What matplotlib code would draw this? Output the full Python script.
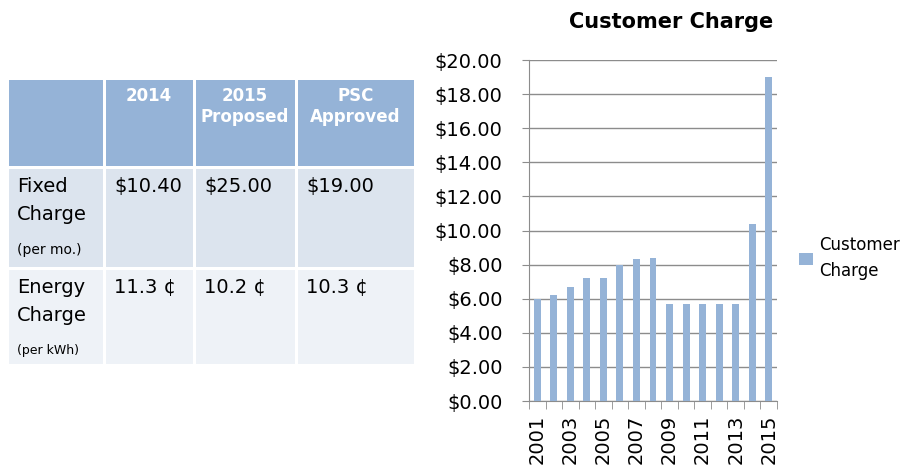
import matplotlib.pyplot as plt
from matplotlib.patches import Rectangle

years = list(range(2001, 2016))
charge = [6.00, 6.22, 6.67, 7.21, 7.21, 7.96, 8.35, 8.39,
          5.69, 5.69, 5.69, 5.69, 5.69, 10.40, 19.00]

col_heads = ["", "2014", "2015\nProposed", "PSC\nApproved"]
row_names = ["Fixed\nCharge", "Energy\nCharge"]
row_units = ["(per mo.)", "(per kWh)"]
fixed_vals = ["$10.40", "$25.00", "$19.00"]
energy_vals = ["11.3 \u00a2", "10.2 \u00a2", "10.3 \u00a2"]

blue = "#95B3D7"
W, H = 906, 467
fig = plt.figure(figsize=(W / 100, H / 100), dpi=100)

# ---- table, drawn in pixel coords ----
tab = fig.add_axes([0, 0, 1, 1])
tab.set_xlim(0, W)
tab.set_ylim(H, 0)
tab.axis("off")

xs = [7, 104, 194, 296, 415]
ys = [78, 167, 268, 365]
fills = [blue, "#DCE4EE", "#EEF2F7"]
gap = 1.5
for r in range(3):
    for c in range(4):
        x0, x1 = xs[c], xs[c + 1]
        y0, y1 = ys[r], ys[r + 1]
        tab.add_patch(Rectangle((x0 + gap, y0 + gap), x1 - x0 - 2 * gap, y1 - y0 - 2 * gap,
                                facecolor=fills[r], edgecolor="none"))

for c, txt in enumerate(col_heads):
    if txt:
        tab.text((xs[c] + xs[c + 1]) / 2, 87, txt, ha="center", va="top", color="white",
                 fontsize=12, fontweight="bold", linespacing=1.25)

for r, (name, unit, vals) in enumerate(zip(row_names, row_units, [fixed_vals, energy_vals])):
    top = ys[r + 1] + 10
    tab.text(17, top, name, ha="left", va="top", fontsize=14, linespacing=1.6)
    tab.text(17, top + 66, unit, ha="left", va="top", fontsize=10 if r == 0 else 9)
    for c, v in enumerate(vals):
        tab.text(xs[c + 1] + 10, top, v, ha="left", va="top", fontsize=14)

# ---- bar chart ----
ax = fig.add_axes([529 / W, 1 - 401 / H, 248 / W, 341 / H])
ax.bar(years, charge, width=0.42, color=blue, label="Customer Charge", zorder=3)
ax.set_ylim(0, 20)
ax.set_xlim(years[0] - 0.5, years[-1] + 0.5)
ax.set_yticks(range(0, 21, 2))
ax.set_yticklabels(["${:.2f}".format(v) for v in range(0, 21, 2)], fontsize=14)
ax.yaxis.grid(True, color="#8c8c8c", linewidth=1, zorder=0)
ax.tick_params(axis="y", length=5, color="#8c8c8c", pad=14)

ax.set_xticks(years[::2])
ax.set_xticklabels([str(y) for y in years[::2]], rotation=90, fontsize=14)
ax.set_xticks([y + 0.5 for y in years[:-1]] + [years[0] - 0.5, years[-1] + 0.5], minor=True)
ax.tick_params(axis="x", which="major", length=0, pad=10)
ax.tick_params(axis="x", which="minor", length=6, color="#8c8c8c")

for s in ["top", "right"]:
    ax.spines[s].set_visible(False)
for s in ["left", "bottom"]:
    ax.spines[s].set_color("#8c8c8c")

fig.text(671 / W, 1 - 22 / H, "Customer Charge", ha="center", va="center",
         fontsize=15, fontweight="bold")
ax.legend(loc="center left", bbox_to_anchor=(1.09, 0.42), frameon=False, fontsize=12,
          handlelength=0.8, handleheight=0.8, handletextpad=0.4, borderaxespad=0,
          borderpad=0, labelspacing=0, labels=["Customer\nCharge"])
leg_text = ax.get_legend().get_texts()[0]
leg_text.set_linespacing(1.6)

fig.savefig("out.png", dpi=100)
